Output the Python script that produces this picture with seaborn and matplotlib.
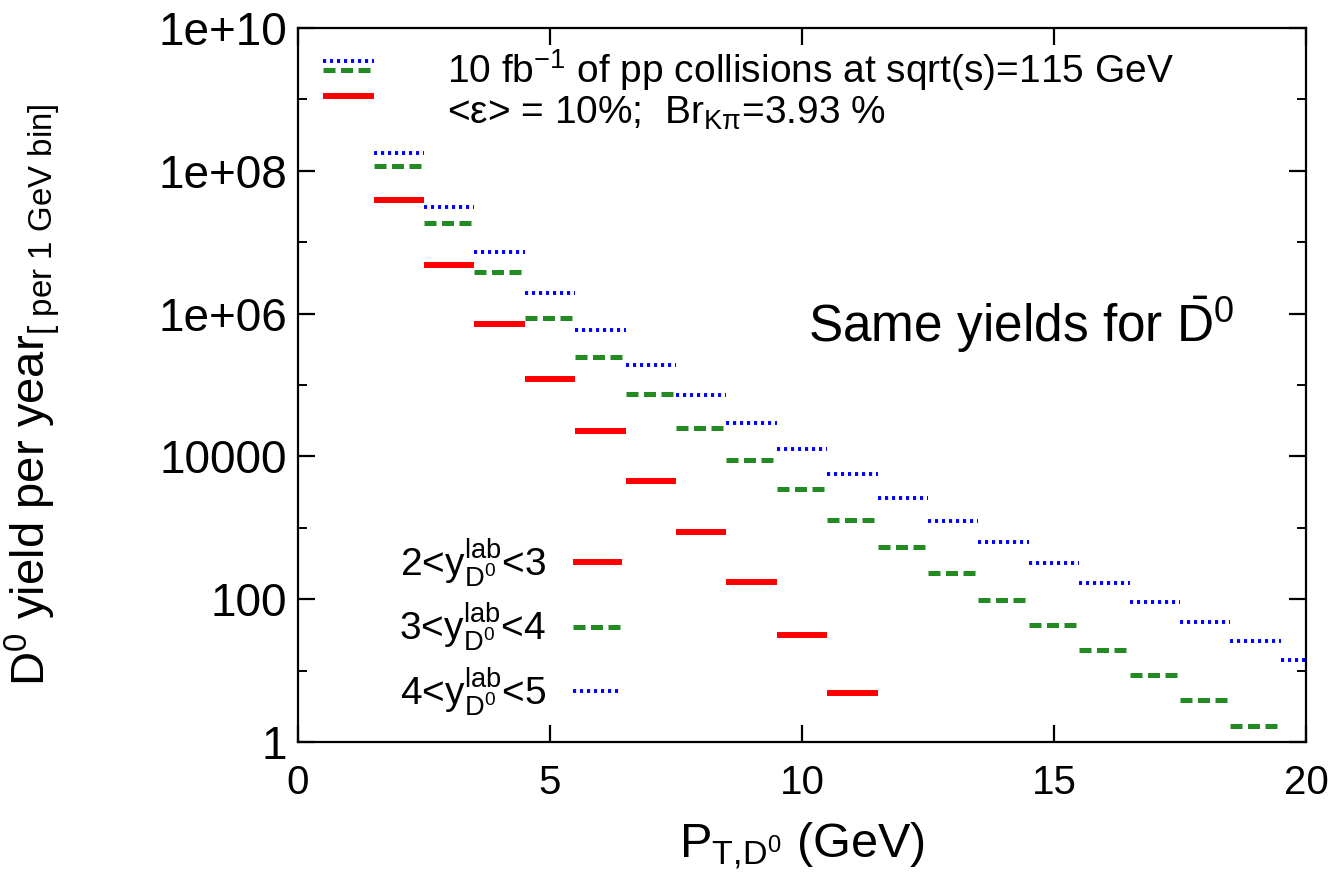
import numpy as np
import pandas as pd
import matplotlib
matplotlib.use("Agg")
import matplotlib.pyplot as plt
from matplotlib.lines import Line2D
from matplotlib.ticker import FixedLocator, NullFormatter
import seaborn as sns

# ---------------- data ----------------
pt_centers = list(range(1, 21))
bin_width = 1.0

yield_y23 = [1.1e9, 3.9e7, 4.8e6, 7.1e5, 1.2e5, 2.3e4, 4.5e3, 870, 174, 31, 4.9]
yield_y34 = [2.6e9, 1.17e8, 1.86e7, 3.8e6, 8.7e5, 2.5e5, 7.5e4, 2.5e4, 8.9e3,
             3.5e3, 1.3e3, 540, 230, 97, 43, 19.5, 8.7, 3.9, 1.7]
yield_y45 = [3.4e9, 1.78e8, 3.1e7, 7.3e6, 1.94e6, 5.9e5, 1.9e5, 7.2e4, 2.9e4,
             1.27e4, 5.7e3, 2.6e3, 1.25e3, 630, 320, 170, 91, 48, 26, 14]

series_labels = [r"2<$\mathrm{y}^{\mathrm{lab}}_{\mathrm{D}^{0}}$<3",
                 r"3<$\mathrm{y}^{\mathrm{lab}}_{\mathrm{D}^{0}}$<4",
                 r"4<$\mathrm{y}^{\mathrm{lab}}_{\mathrm{D}^{0}}$<5"]

x_ticks = [0, 5, 10, 15, 20]
y_ticks = [1, 1e2, 1e4, 1e6, 1e8, 1e10]
y_ticklabels = ["1", "100", "10000", "1e+06", "1e+08", "1e+10"]
y_minor = [10, 1e3, 1e5, 1e7, 1e9]

# ---------------- styles ----------------
colors = ["#ff0000", "#228b22", "#0000ff"]
linewidths = [4.3, 3.6, 2.8]
linestyles = ["-", (0, (2.4, 1.1)), (0, (0.8, 1.0))]

# ---------------- build long-form table of bin segments ----------------
rows = []
for label, vals in zip(series_labels, [yield_y23, yield_y34, yield_y45]):
    for i, v in enumerate(vals):
        c = pt_centers[i]
        rows.append((label, f"{label}_{i}", c - bin_width / 2, v))
        rows.append((label, f"{label}_{i}", c + bin_width / 2, v))
df = pd.DataFrame(rows, columns=["series", "seg", "pt", "yield"])

sns.set_theme(style="ticks")
plt.rcParams["font.family"] = ["Liberation Sans", "DejaVu Sans"]
plt.rcParams["mathtext.fontset"] = "custom"
plt.rcParams["mathtext.rm"] = "Liberation Sans"
plt.rcParams["mathtext.it"] = "Liberation Sans:italic"
plt.rcParams["mathtext.bf"] = "Liberation Sans:bold"
for k in ["text.color", "axes.labelcolor", "xtick.color", "ytick.color",
          "axes.edgecolor"]:
    plt.rcParams[k] = "black"

fig = plt.figure(figsize=(13.4, 8.96), dpi=100)
ax = fig.add_axes([0.2224, 0.1719, 0.9746 - 0.2224, 0.9688 - 0.1719])

handles = []
for label, col, lw, ls in zip(series_labels, colors, linewidths, linestyles):
    sub = df[df["series"] == label]
    sns.lineplot(data=sub, x="pt", y="yield", units="seg", estimator=None,
                 sort=False, color=col, lw=lw, linestyle=ls,
                 solid_capstyle="butt", dash_capstyle="butt",
                 legend=False, ax=ax)
    handles.append(Line2D([], [], color=col, lw=lw, linestyle=ls,
                          solid_capstyle="butt", dash_capstyle="butt"))

ax.set_yscale("log")
ax.set_xlim(0, 20)
ax.set_ylim(1, 1e10)
ax.set_xticks(x_ticks)
ax.set_xticklabels([str(t) for t in x_ticks])
ax.set_yticks(y_ticks)
ax.set_yticklabels(y_ticklabels)
ax.yaxis.set_minor_locator(FixedLocator(y_minor))
ax.yaxis.set_minor_formatter(NullFormatter())
ax.xaxis.set_minor_locator(FixedLocator([]))

ax.tick_params(axis="both", which="major", direction="in", length=12, width=1.6,
               top=True, right=True, color="black")
ax.tick_params(axis="both", which="minor", direction="in", length=6.5, width=1.4,
               top=True, right=True, color="black")
ax.tick_params(axis="y", which="major", labelsize=33, pad=8)
ax.tick_params(axis="x", which="major", labelsize=29, pad=16)
for s in ax.spines.values():
    s.set_linewidth(1.6)
    s.set_color("black")

ax.set_xlabel(r"P$_{\mathrm{T{,}D}^{0}}$ (GeV)", fontsize=35, labelpad=13)
ax.set_ylabel(r"D$^{0}$ yield per year$_{\mathrm{[\ per\ 1\ GeV\ bin]}}$",
              fontsize=34)
ax.yaxis.set_label_coords(-0.234, 0.486)

ax.text(0.148, 0.941, r"10 fb$^{\mathrm{-1}}$ of pp collisions at sqrt(s)=115 GeV",
        transform=ax.transAxes, fontsize=28, va="center", ha="left")
ax.text(0.148, 0.881, r"<ε> = 10%;  Br$_{\mathrm{Kπ}}$=3.93 %",
        transform=ax.transAxes, fontsize=28, va="center", ha="left")
ax.text(0.506, 0.584, r"Same yields for $\bar{\mathrm{D}}^{0}$",
        transform=ax.transAxes, fontsize=37, va="center", ha="left")

leg = ax.legend(handles, series_labels, loc="lower left",
                bbox_to_anchor=(0.085, 0.012), frameon=False, markerfirst=False,
                fontsize=28, handlelength=1.25, handletextpad=0.7,
                labelspacing=0.3, borderaxespad=0.0)

fig.savefig("out.png", dpi=100)
